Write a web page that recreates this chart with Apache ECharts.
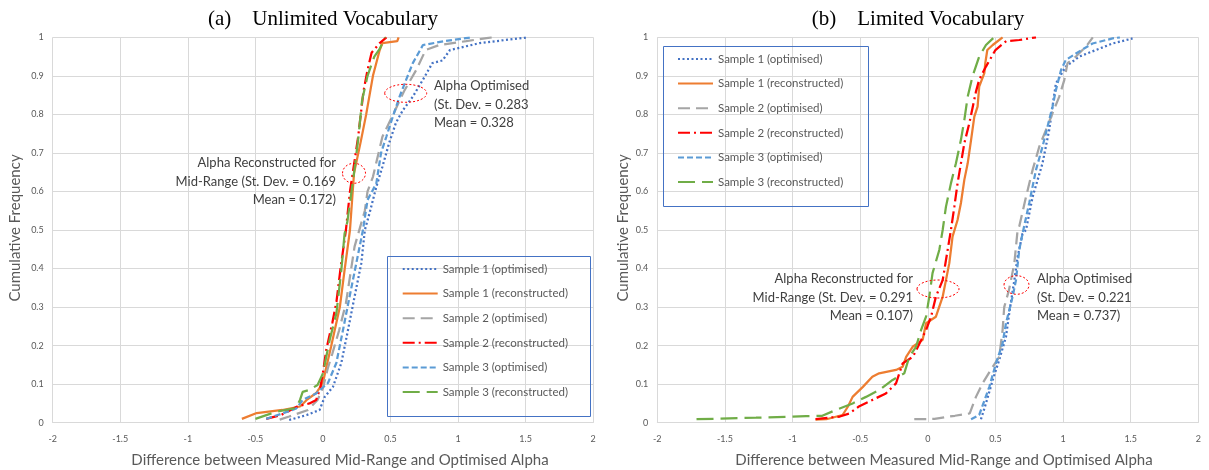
<!DOCTYPE html>
<html>
<head>
<meta charset="utf-8">
<script src="https://cdn.jsdelivr.net/npm/echarts@6/dist/echarts.min.js"></script>
<style>
  html, body { margin: 0; padding: 0; background: #ffffff; }
  #chart { width: 1209px; height: 470px; }
</style>
</head>
<body>
<div id="chart"></div>
<script>
// ---- labels ----
const seriesNames = [
  'Sample 1 (optimised)',
  'Sample 1 (reconstructed)',
  'Sample 2 (optimised)',
  'Sample 2 (reconstructed)',
  'Sample 3 (optimised)',
  'Sample 3 (reconstructed)'
];
const panelTitles = ['(a)    Unlimited Vocabulary', '(b)    Limited Vocabulary'];
const xAxisTitle = 'Difference between Measured Mid-Range and Optimised Alpha';
const yAxisTitle = 'Cumulative Frequency';

// ---- cumulative distributions: [difference, cumulative frequency] ----
// (a) unlimited vocabulary
const unlimS1Opt = [[-0.25,0.007],[-0.12,0.02],[-0.025,0.033],[0.013,0.067],[0.074,0.093],[0.136,0.155],[0.185,0.24],[0.234,0.327],[0.284,0.414],[0.31,0.5],[0.345,0.544],[0.395,0.612],[0.44,0.664],[0.49,0.726],[0.54,0.778],[0.59,0.81],[0.665,0.846],[0.74,0.89],[0.81,0.933],[0.885,0.94],[0.94,0.967],[1.16,0.985],[1.52,1.0]];
const unlimS1Rec = [[-0.60,0.01],[-0.49,0.025],[-0.30,0.033],[-0.17,0.042],[-0.12,0.059],[-0.05,0.077],[0.0,0.103],[0.02,0.137],[0.06,0.197],[0.125,0.30],[0.16,0.396],[0.20,0.50],[0.23,0.648],[0.25,0.68],[0.28,0.73],[0.32,0.80],[0.37,0.90],[0.42,0.967],[0.44,0.985],[0.55,0.99],[0.56,1.0]];
const unlimS2Opt = [[-0.32,0.008],[-0.25,0.016],[-0.11,0.033],[-0.04,0.059],[0.0,0.09],[0.035,0.14],[0.07,0.18],[0.12,0.24],[0.17,0.31],[0.234,0.457],[0.31,0.55],[0.33,0.60],[0.37,0.638],[0.44,0.742],[0.52,0.80],[0.60,0.86],[0.69,0.915],[0.76,0.967],[0.86,0.98],[1.06,0.99],[1.25,1.0]];
const unlimS2Rec = [[-0.42,0.01],[-0.31,0.02],[-0.19,0.042],[-0.10,0.05],[-0.05,0.059],[-0.02,0.09],[0.0,0.13],[0.025,0.19],[0.07,0.26],[0.10,0.314],[0.13,0.40],[0.17,0.50],[0.20,0.60],[0.23,0.67],[0.26,0.74],[0.28,0.80],[0.30,0.86],[0.33,0.915],[0.36,0.96],[0.42,0.985],[0.47,1.0]];
const unlimS3Opt = [[-0.42,0.01],[-0.30,0.024],[-0.197,0.037],[-0.15,0.059],[-0.05,0.076],[0.037,0.103],[0.099,0.155],[0.148,0.24],[0.197,0.327],[0.247,0.414],[0.296,0.5],[0.33,0.578],[0.395,0.621],[0.43,0.70],[0.469,0.742],[0.517,0.794],[0.567,0.846],[0.616,0.89],[0.665,0.933],[0.74,0.98],[0.9,0.99],[1.1,1.0]];
const unlimS3Rec = [[-0.50,0.01],[-0.34,0.029],[-0.20,0.038],[-0.17,0.059],[-0.15,0.08],[-0.10,0.085],[-0.04,0.098],[0.0,0.128],[0.05,0.215],[0.10,0.285],[0.136,0.396],[0.16,0.49],[0.18,0.52],[0.23,0.648],[0.26,0.733],[0.29,0.837],[0.33,0.90],[0.38,0.95],[0.42,0.97],[0.46,1.0]];

// (b) limited vocabulary
const limS1Opt = [[0.393,0.009],[0.43,0.05],[0.48,0.111],[0.528,0.163],[0.578,0.223],[0.602,0.284],[0.64,0.37],[0.664,0.43],[0.70,0.49],[0.726,0.5],[0.775,0.586],[0.848,0.673],[0.898,0.76],[0.922,0.82],[0.947,0.88],[1.02,0.924],[1.12,0.95],[1.243,0.967],[1.366,0.984],[1.514,0.997]];
const limS1Rec = [[-0.83,0.008],[-0.75,0.009],[-0.63,0.02],[-0.59,0.042],[-0.556,0.067],[-0.48,0.093],[-0.41,0.119],[-0.36,0.128],[-0.235,0.137],[-0.186,0.145],[-0.16,0.171],[-0.112,0.197],[-0.038,0.215],[-0.013,0.258],[0.06,0.275],[0.11,0.327],[0.159,0.414],[0.183,0.483],[0.22,0.526],[0.245,0.57],[0.27,0.63],[0.295,0.673],[0.32,0.734],[0.344,0.794],[0.368,0.82],[0.38,0.872],[0.418,0.907],[0.425,0.933],[0.44,0.967],[0.48,0.98],[0.553,1.0]];
const limS2Opt = [[-0.10,0.009],[0.05,0.01],[0.20,0.018],[0.31,0.024],[0.356,0.067],[0.405,0.102],[0.48,0.145],[0.528,0.171],[0.553,0.24],[0.565,0.30],[0.60,0.344],[0.64,0.414],[0.664,0.5],[0.676,0.509],[0.726,0.586],[0.775,0.656],[0.824,0.716],[0.874,0.76],[0.922,0.803],[0.972,0.846],[1.009,0.889],[1.033,0.933],[1.095,0.95],[1.17,0.976],[1.22,1.0]];
const limS2Rec = [[-0.83,0.009],[-0.65,0.016],[-0.58,0.024],[-0.51,0.042],[-0.41,0.059],[-0.31,0.076],[-0.235,0.102],[-0.186,0.154],[-0.11,0.171],[-0.013,0.24],[0.024,0.275],[0.06,0.327],[0.11,0.37],[0.171,0.5],[0.196,0.56],[0.22,0.621],[0.245,0.673],[0.27,0.725],[0.307,0.777],[0.356,0.859],[0.38,0.89],[0.43,0.924],[0.50,0.967],[0.58,0.99],[0.676,0.993],[0.80,1.0]];
const limS3Opt = [[0.32,0.009],[0.38,0.02],[0.455,0.093],[0.504,0.154],[0.553,0.206],[0.578,0.258],[0.627,0.327],[0.652,0.37],[0.676,0.448],[0.70,0.49],[0.75,0.57],[0.80,0.656],[0.848,0.716],[0.885,0.768],[0.922,0.82],[0.947,0.863],[0.985,0.915],[1.02,0.941],[1.095,0.958],[1.218,0.984],[1.366,0.997],[1.42,1.0]];
const limS3Rec = [[-1.71,0.009],[-1.27,0.013],[-0.90,0.017],[-0.78,0.018],[-0.68,0.033],[-0.556,0.05],[-0.457,0.067],[-0.358,0.085],[-0.26,0.111],[-0.174,0.128],[-0.137,0.171],[-0.087,0.197],[-0.05,0.24],[-0.013,0.275],[0.011,0.327],[0.035,0.388],[0.085,0.448],[0.11,0.50],[0.134,0.56],[0.171,0.621],[0.208,0.673],[0.245,0.734],[0.27,0.785],[0.295,0.846],[0.33,0.898],[0.38,0.95],[0.43,0.98],[0.49,1.0]];

const panelData = [
  [unlimS1Opt, unlimS1Rec, unlimS2Opt, unlimS2Rec, unlimS3Opt, unlimS3Rec],
  [limS1Opt, limS1Rec, limS2Opt, limS2Rec, limS3Opt, limS3Rec]
];

// ---- styling ----
const lineStyles = [
  { color: '#4472C4', type: [2, 2.5], width: 2.25 },          // dotted
  { color: '#ED7D31', type: 'solid', width: 2.25 },           // solid
  { color: '#A5A5A5', type: [12, 6], width: 2.25 },           // long dash
  { color: '#FF0000', type: [12, 4, 2, 4], width: 2.25 },     // dash-dot
  { color: '#5B9BD5', type: [6, 3], width: 2.25 },            // dash
  { color: '#70AD47', type: [17, 7], width: 2.25 }            // long dash
];
const FONT = 'Lato, "Open Sans", sans-serif';
const TEXT_GREY = '#595959';
const GRID_GREY = '#d9d9d9';

const grids = [
  { left: 52.7, top: 37.3, width: 540.5, height: 385.4 },
  { left: 657.3, top: 37.3, width: 541, height: 385.4 }
];

function makeXAxis(i) {
  return {
    type: 'value', gridIndex: i, min: -2, max: 2, interval: 0.5,
    axisLine: { show: true, onZero: false, lineStyle: { color: GRID_GREY, width: 1 } },
    axisTick: { show: false },
    splitLine: { show: true, lineStyle: { color: GRID_GREY, width: 1 } },
    axisLabel: { color: TEXT_GREY, fontSize: 9, fontFamily: FONT, margin: 12 }
  };
}
function makeYAxis(i) {
  return {
    type: 'value', gridIndex: i, min: 0, max: 1, interval: 0.1,
    axisLine: { show: true, lineStyle: { color: GRID_GREY, width: 1 } },
    axisTick: { show: false },
    splitLine: { show: true, lineStyle: { color: GRID_GREY, width: 1 } },
    axisLabel: { color: TEXT_GREY, fontSize: 9, fontFamily: FONT, margin: 9 }
  };
}

const series = [];
panelData.forEach((group, g) => {
  group.forEach((pts, k) => {
    series.push({
      type: 'line',
      name: seriesNames[k],
      xAxisIndex: g,
      yAxisIndex: g,
      data: pts,
      symbol: 'none',
      smooth: false,
      lineStyle: lineStyles[k],
      itemStyle: { color: lineStyles[k].color },
      emphasis: { disabled: true },
      z: 3
    });
  });
});

// legend keys show only the line pattern, no marker
function makeLegend(left, top) {
  return {
    orient: 'vertical', left: left, top: top,
    z: 30,
    itemWidth: 35, itemHeight: 14, itemGap: 12.6,
    padding: 0, borderWidth: 0,
    data: seriesNames,
    selectedMode: false,
    itemStyle: { color: 'rgba(0,0,0,0)', borderWidth: 0, opacity: 0 },
    textStyle: { color: TEXT_GREY, fontSize: 11.5, fontFamily: FONT }
  };
}

const annoFont = '13px ' + FONT;
const annoColor = '#404040';
function annoText(x, y, align, text) {
  return {
    type: 'text', z: 10,
    style: { x: x, y: y, text: text, align: align, verticalAlign: 'top',
             font: annoFont, fill: annoColor, lineHeight: 18.5 }
  };
}
function ring(cx, cy, rx, ry) {
  return {
    type: 'ellipse', z: 10,
    shape: { cx: cx, cy: cy, rx: rx, ry: ry },
    style: { fill: 'none', stroke: '#FF0000', lineWidth: 1, lineDash: [2, 2] }
  };
}

const graphic = [
  // panel titles
  { type: 'text', style: { x: 323, y: 19, text: panelTitles[0], align: 'center', verticalAlign: 'middle',
      font: '21px "Liberation Serif", "Times New Roman", serif', fill: '#000000' } },
  { type: 'text', style: { x: 918, y: 19, text: panelTitles[1], align: 'center', verticalAlign: 'middle',
      font: '21px "Liberation Serif", "Times New Roman", serif', fill: '#000000' } },
  // axis titles
  { type: 'text', style: { x: 340, y: 460, text: xAxisTitle, align: 'center', verticalAlign: 'middle',
      font: '15px ' + FONT, fill: TEXT_GREY } },
  { type: 'text', style: { x: 944, y: 460, text: xAxisTitle, align: 'center', verticalAlign: 'middle',
      font: '15px ' + FONT, fill: TEXT_GREY } },
  { type: 'text', x: 15, y: 228, rotation: Math.PI / 2,
    style: { x: 0, y: 0, text: yAxisTitle, align: 'center', verticalAlign: 'middle',
      font: '15px ' + FONT, fill: TEXT_GREY } },
  { type: 'text', x: 623, y: 228, rotation: Math.PI / 2,
    style: { x: 0, y: 0, text: yAxisTitle, align: 'center', verticalAlign: 'middle',
      font: '15px ' + FONT, fill: TEXT_GREY } },
  // legend frames (outline only; the legend itself draws on top)
  { type: 'rect', z: 1, shape: { x: 387.5, y: 256.5, width: 203, height: 160 },
    style: { fill: 'none', stroke: '#4472C4', lineWidth: 1 } },
  { type: 'rect', z: 1, shape: { x: 663.5, y: 46.5, width: 205, height: 160 },
    style: { fill: 'none', stroke: '#4472C4', lineWidth: 1 } },
  // callouts, panel (a)
  annoText(336, 153.8, 'right', 'Alpha Reconstructed for\nMid-Range (St. Dev. = 0.169\nMean = 0.172)'),
  annoText(434, 76.8, 'left', 'Alpha Optimised\n(St. Dev. = 0.283\nMean = 0.328'),
  ring(354, 173.3, 11.5, 10),
  ring(405.7, 93.3, 21, 9),
  // callouts, panel (b)
  annoText(913, 269.8, 'right', 'Alpha Reconstructed for\nMid-Range (St. Dev. = 0.291\nMean = 0.107)'),
  annoText(1037, 269.8, 'left', 'Alpha Optimised\n(St. Dev. = 0.221\nMean = 0.737)'),
  ring(938, 289, 21, 9),
  ring(1016.5, 285, 12.5, 9.3)
];

const chart = echarts.init(document.getElementById('chart'), null, { renderer: 'canvas' });
chart.setOption({
  backgroundColor: '#ffffff',
  animation: false,
  grid: grids,
  xAxis: [makeXAxis(0), makeXAxis(1)],
  yAxis: [makeYAxis(0), makeYAxis(1)],
  legend: [makeLegend(401.7, 263), makeLegend(677, 53)],
  series: series,
  graphic: graphic
});
</script>
</body>
</html>
